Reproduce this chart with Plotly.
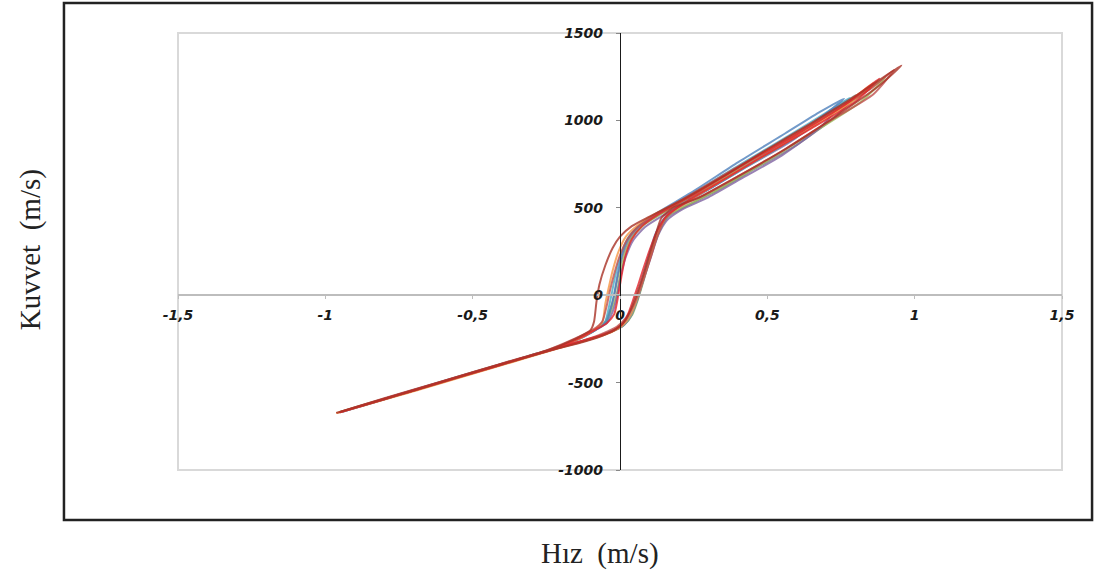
import plotly.graph_objects as go

# ---- data (velocity m/s, force) ----
x1 = [-0.96,-0.8,-0.6,-0.4,-0.25,-0.15,-0.1,-0.088,-0.08,-0.07,-0.05,-0.025,0.0,0.04,0.1,0.2,0.35,0.5,0.65,0.8,0.955,0.88,0.72,0.56,0.4,0.27,0.18,0.14,0.12,0.1,0.08,0.06,0.04,0.02,-0.01,-0.05,-0.12,-0.25,-0.45,-0.7,-0.96]
y1 = [-672,-592,-492,-392,-318,-248,-200,-150,-40,60,170,270,335,395,450,535,680,835,985,1140,1315,1200,1010,835,680,560,500,440,340,230,120,20,-70,-140,-190,-225,-265,-322,-420,-545,-672]

x2 = [-0.95,-0.8,-0.6,-0.4,-0.25,-0.15,-0.09,-0.06,-0.045,-0.035,-0.02,0.0,0.025,0.06,0.12,0.22,0.38,0.55,0.72,0.85,0.93,0.86,0.7,0.55,0.4,0.28,0.19,0.15,0.125,0.105,0.085,0.065,0.045,0.02,-0.01,-0.06,-0.13,-0.27,-0.5,-0.75,-0.95]
y2 = [-668,-590,-490,-390,-316,-246,-195,-150,-60,20,120,230,320,390,460,555,715,880,1050,1180,1290,1150,985,825,680,570,495,430,330,220,120,20,-60,-130,-180,-220,-262,-330,-443,-568,-668]

x3 = [-0.94,-0.75,-0.55,-0.35,-0.2,-0.12,-0.07,-0.045,-0.03,-0.02,-0.008,0.008,0.03,0.07,0.13,0.24,0.4,0.56,0.68,0.76,0.7,0.58,0.44,0.3,0.2,0.15,0.12,0.1,0.085,0.07,0.055,0.035,0.01,-0.03,-0.09,-0.2,-0.4,-0.65,-0.94]
y3 = [-665,-567,-467,-367,-292,-232,-185,-150,-70,0,120,240,330,405,475,585,760,925,1050,1125,1040,895,750,605,510,440,350,240,150,60,-30,-110,-170,-205,-245,-296,-396,-520,-665]

x4 = [-0.95,-0.75,-0.55,-0.35,-0.2,-0.12,-0.075,-0.05,-0.038,-0.028,-0.015,0.005,0.03,0.07,0.13,0.25,0.42,0.58,0.7,0.78,0.72,0.6,0.46,0.32,0.21,0.155,0.125,0.105,0.088,0.072,0.056,0.038,0.012,-0.03,-0.1,-0.22,-0.42,-0.68,-0.95]
y4 = [-670,-570,-470,-370,-294,-234,-190,-150,-70,10,120,240,335,405,470,585,760,920,1045,1130,1050,905,765,625,520,445,350,240,145,55,-35,-115,-172,-210,-250,-305,-405,-535,-670]

x5 = [-0.95,-0.78,-0.58,-0.38,-0.22,-0.13,-0.08,-0.05,-0.03,-0.012,0.0,0.015,0.04,0.08,0.15,0.27,0.45,0.62,0.78,0.9,0.82,0.66,0.5,0.36,0.24,0.17,0.135,0.11,0.092,0.076,0.06,0.042,0.015,-0.025,-0.09,-0.2,-0.4,-0.66,-0.95]
y5 = [-668,-582,-482,-382,-302,-238,-192,-158,-90,0,110,225,325,400,475,590,775,945,1100,1245,1110,935,770,630,525,465,370,255,155,60,-30,-110,-168,-205,-243,-297,-397,-527,-668]

x6 = [-0.94,-0.74,-0.54,-0.34,-0.2,-0.12,-0.075,-0.045,-0.025,-0.012,0.0,0.018,0.045,0.085,0.15,0.26,0.42,0.58,0.74,0.68,0.55,0.42,0.3,0.21,0.16,0.13,0.108,0.09,0.073,0.056,0.036,0.01,-0.03,-0.1,-0.22,-0.42,-0.68,-0.94]
y6 = [-666,-566,-466,-366,-296,-236,-192,-160,-95,-20,90,210,315,390,460,565,725,880,1080,960,800,675,560,490,430,345,235,140,50,-40,-120,-175,-210,-252,-307,-406,-536,-666]

x7 = [-0.96,-0.78,-0.58,-0.38,-0.22,-0.13,-0.085,-0.06,-0.05,-0.04,-0.025,-0.005,0.02,0.06,0.12,0.23,0.4,0.58,0.74,0.86,0.78,0.63,0.48,0.34,0.23,0.16,0.13,0.108,0.09,0.072,0.055,0.036,0.01,-0.03,-0.1,-0.22,-0.42,-0.68,-0.96]
y7 = [-674,-586,-486,-386,-306,-242,-196,-155,-50,30,140,250,335,400,465,560,730,905,1065,1215,1100,940,790,650,535,455,360,250,150,55,-35,-115,-172,-212,-252,-309,-410,-540,-674]

x8 = [-0.95,-0.78,-0.58,-0.38,-0.22,-0.13,-0.08,-0.045,-0.02,-0.008,0.004,0.018,0.04,0.075,0.13,0.24,0.42,0.6,0.76,0.88,0.8,0.64,0.48,0.33,0.22,0.16,0.125,0.1,0.08,0.062,0.045,0.028,0.008,-0.03,-0.1,-0.22,-0.42,-0.68,-0.95]
y8 = [-670,-584,-484,-384,-304,-240,-194,-160,-110,-20,100,220,320,395,462,565,748,920,1085,1240,1110,945,790,640,530,458,365,255,155,60,-25,-105,-165,-208,-248,-306,-406,-536,-670]

x9 = [-0.95,-0.76,-0.56,-0.36,-0.21,-0.125,-0.078,-0.05,-0.032,-0.02,-0.006,0.01,0.035,0.075,0.14,0.25,0.42,0.6,0.8,0.73,0.6,0.46,0.32,0.22,0.16,0.13,0.107,0.09,0.074,0.058,0.04,0.014,-0.028,-0.1,-0.22,-0.42,-0.68,-0.95]
y9 = [-669,-575,-475,-375,-299,-237,-192,-152,-75,0,115,230,328,400,468,570,740,915,1145,1020,860,725,590,505,445,355,245,150,58,-32,-112,-170,-208,-250,-307,-407,-537,-669]

x_tickvals = [-1.5, -1, -0.5, 0, 0.5, 1, 1.5]
x_ticktext = ["-1,5", "-1", "-0,5", "0", "0,5", "1", "1,5"]
y_tickvals = [-1000, -500, 0, 500, 1000, 1500]
y_ticktext = ["-1000", "-500", "0", "500", "1000", "1500"]

x_title = "Hız  (m/s)"
y_title = "Kuvvet  (m/s)"

series = [
    (x9, y9, "#7F7F7F"),
    (x5, y5, "#9BBB59"),
    (x6, y6, "#8064A2"),
    (x4, y4, "#4BACC6"),
    (x3, y3, "#4F81BD"),
    (x7, y7, "#F79646"),
    (x2, y2, "#C0504D"),
    (x8, y8, "#E3242B"),
    (x1, y1, "#A93226"),
]

fig = go.Figure()
for xs, ys, col in series:
    fig.add_trace(go.Scatter(x=xs, y=ys, mode="lines",
                             line=dict(color=col, width=2.0, shape="spline", smoothing=0.6),
                             opacity=0.8, showlegend=False, hoverinfo="skip"))

tickfont = dict(family="DejaVu Sans, Arial, sans-serif", size=14,
                color="#1a1a1a", weight="bold", style="italic")

fig.update_layout(
    width=1095, height=581,
    margin=dict(l=178, r=33, t=33, b=111),
    paper_bgcolor="white", plot_bgcolor="white",
    showlegend=False,
    xaxis=dict(range=[-1.5, 1.5], anchor="free", position=0.4,
               showline=True, linecolor="#BDBDBD", linewidth=1.5,
               showgrid=False, zeroline=False,
               ticks="outside", ticklen=3, tickcolor="#BDBDBD",
               ticklabelstandoff=4,
               tickvals=x_tickvals, ticktext=x_ticktext, tickfont=tickfont),
    yaxis=dict(range=[-1000, 1500], anchor="free", position=0.5,
               showline=True, linecolor="#1a1a1a", linewidth=1.2,
               showgrid=False, zeroline=False,
               ticks="outside", ticklen=4, tickcolor="#888888",
               ticklabelstandoff=10,
               tickvals=y_tickvals, ticktext=y_ticktext, tickfont=tickfont),
    shapes=[
        dict(type="rect", xref="paper", yref="paper", x0=0, x1=1, y0=0, y1=1,
             line=dict(color="#D9D9D9", width=2), layer="below"),
        dict(type="rect", xref="paper", yref="paper", x0=-0.129, x1=1.034,
             y0=-0.1144, y1=1.0686, line=dict(color="#222222", width=2.5), layer="below"),
    ],
    annotations=[
        dict(text=y_title, xref="paper", yref="paper", x=-0.1674, y=0.503,
             textangle=-90, showarrow=False, xanchor="center", yanchor="middle",
             font=dict(family="Liberation Serif, Times New Roman, serif", size=29, color="#222222")),
        dict(text=x_title, xref="paper", yref="paper", x=0.477, y=-0.192,
             showarrow=False, xanchor="center", yanchor="middle",
             font=dict(family="Liberation Serif, Times New Roman, serif", size=29, color="#222222")),
    ],
)

fig.write_html("out.html", config={"displayModeBar": False},
               post_script="document.body.style.margin='0px';")
